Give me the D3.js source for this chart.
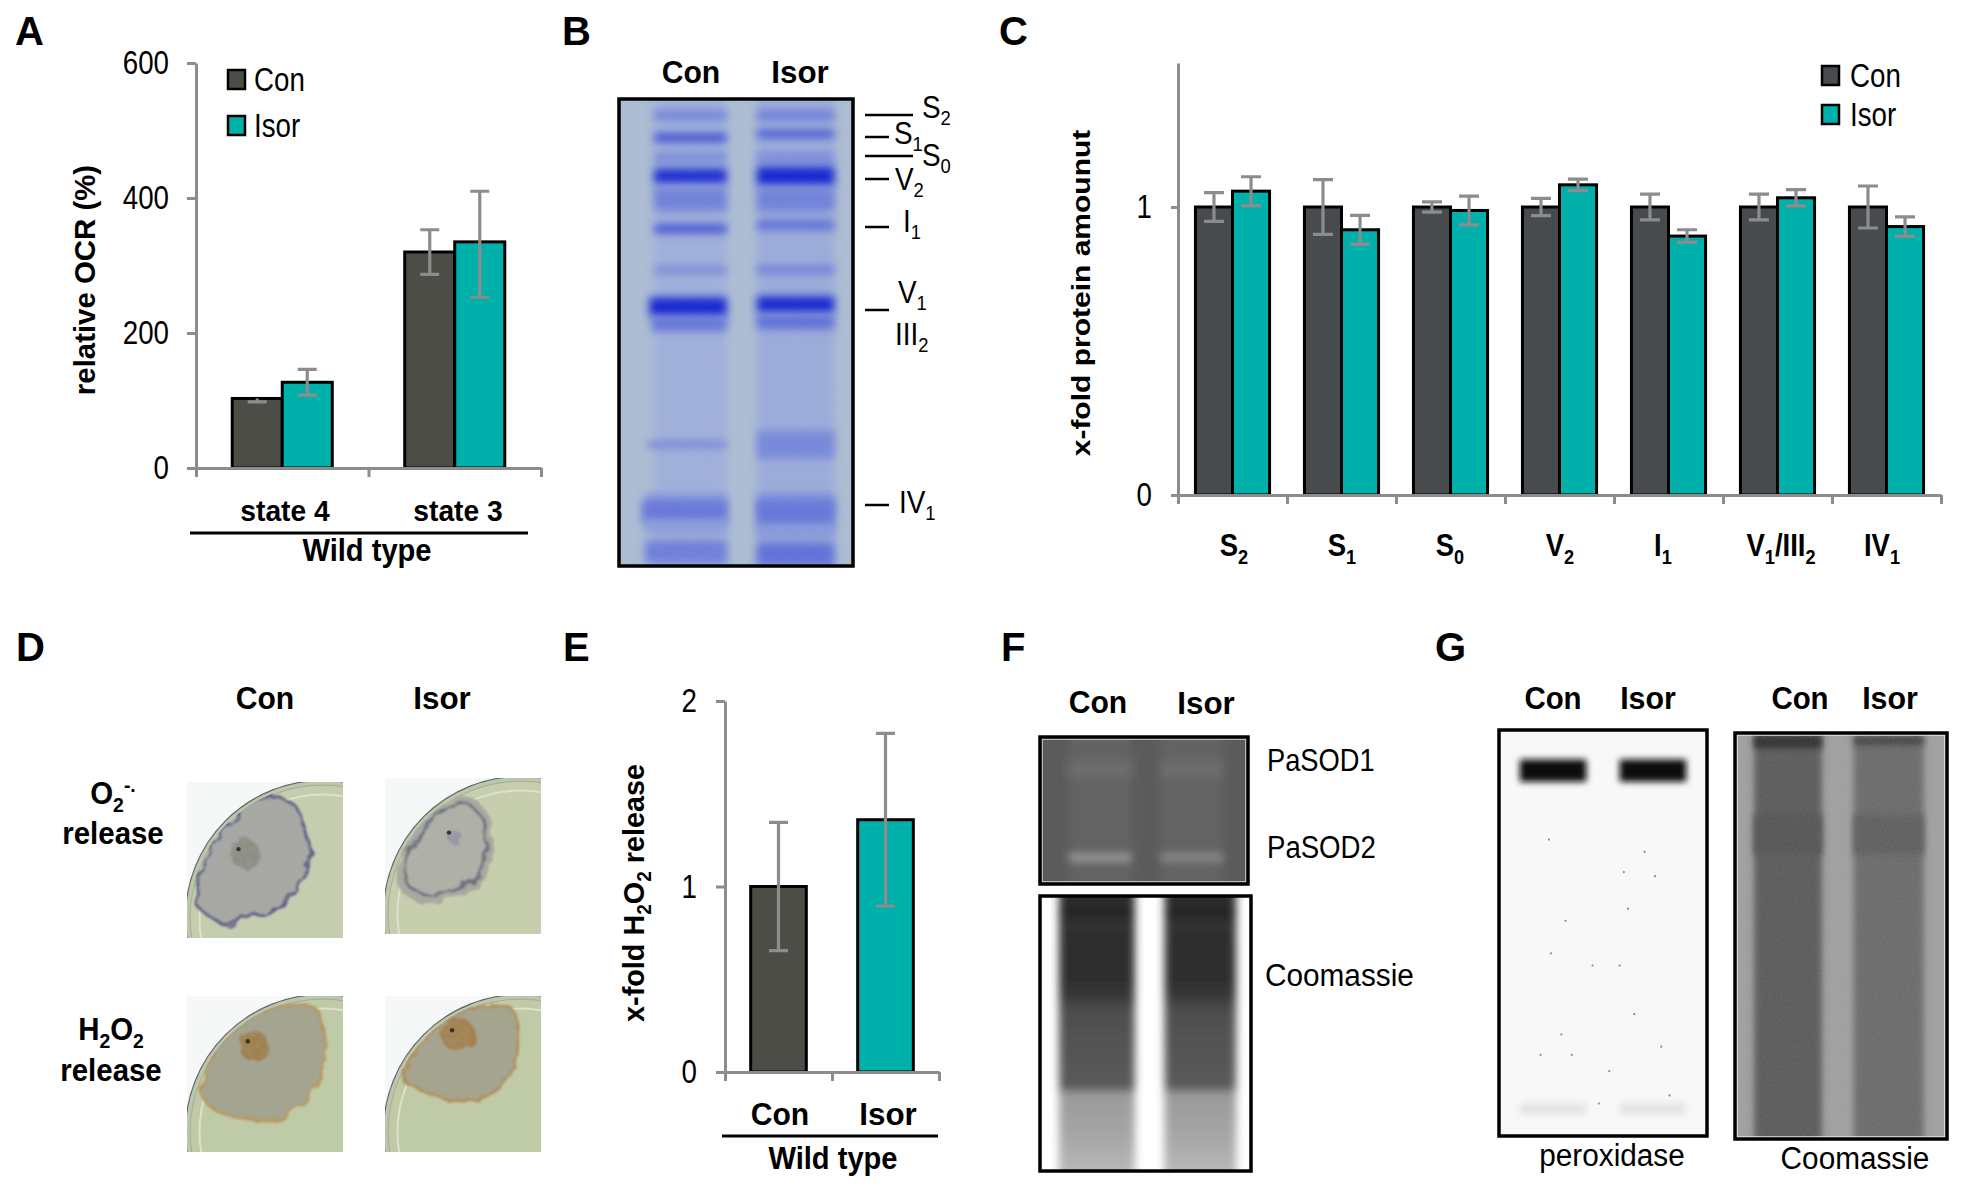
<!DOCTYPE html>
<html>
<head>
<meta charset="utf-8">
<script src="https://cdn.jsdelivr.net/npm/d3@7"></script>
<style>
  body { margin: 0; background: #fff; }
  text { font-family: "Liberation Sans", Arial, sans-serif; fill: #000; }
</style>
</head>
<body>
<svg id="fig" width="1962" height="1194"></svg>
<script>
// panel A
const ocrStates = ["state 4", "state 3"];
const ocrCon = [103, 320];
const ocrIsor = [127, 335];
const ocrConErrUp = [0, 33];
const ocrConErrDown = [5, 33];
const ocrIsorErrUp = [19, 75];
const ocrIsorErrDown = [19, 82];
const ocrTicks = [0, 200, 400, 600];

// panel C
const complexes = ["S_2", "S_1", "S_0", "V_2", "I_1", "V_1/III_2", "IV_1"];
const amountCon = [1, 1, 1, 1, 1, 1, 1];
const amountIsor = [1.055, 0.921, 0.988, 1.077, 0.899, 1.032, 0.932];
const amountConErr = [0.05, 0.095, 0.018, 0.03, 0.045, 0.045, 0.073];
const amountIsorErr = [0.05, 0.05, 0.05, 0.02, 0.022, 0.028, 0.034];
const amountTicks = [0, 1];

// panel E
const h2o2Groups = ["Con", "Isor"];
const h2o2Values = [1, 1.36];
const h2o2Err = [0.346, 0.465];
const h2o2Ticks = [0, 1, 2];

// gel bands: [migration 0-1, intensity 0-1, thickness 0-1, extra width to the left]
const bnConBands = [[.035,.35,.02],[.083,.8,.016],[.125,.3,.02],[.165,.95,.032],[.215,.35,.05],[.278,.7,.018],[.366,.38,.012],[.445,1,.04,.02],[.482,.45,.03,.01],[.74,.38,.012,.03],[.87,.2,.05,.04],[.885,.42,.05,.05],[.915,.16,.03,.04],[.97,.36,.05,.04]];
const bnIsorBands = [[.035,.4,.02],[.075,.85,.012],[.125,.3,.02],[.165,1,.04],[.215,.35,.05],[.27,.5,.02],[.366,.4,.016],[.44,1,.034],[.478,.5,.028],[.74,.3,.06],[.87,.26,.05],[.89,.42,.06],[.925,.18,.03],[.975,.46,.05]];
const bnLabels = ["S_2", "S_1", "S_0", "V_2", "I_1", "V_1", "III_2", "IV_1"];
const sodConBands = [[.22,.08,.12],[.82,.62,.055]];
const sodIsorBands = [[.22,.08,.12],[.82,.45,.055]];
const coomassieStops = [[0,"#2e2e2e"],[.07,"#2c2c2c"],[.09,"#222"],[.12,"#303030"],[.32,"#2e2e2e"],[.38,"#3a3a3a"],[.42,"#4e4e4e"],[.6,"#565656"],[.69,"#5c5c5c"],[.70,"#9a9a9a"],[.85,"#a6a6a6"],[1,"#bcbcbc"]];
const peroxBands = [[.10,1,.055],[.933,.08,.03]];
const peroxSpecks = [[.32,.47],[.62,.44],[.58,.58],[.45,.58],[.6,.35],[.75,.36],[.24,.27],[.65,.7],[.3,.75],[.35,.8],[.78,.78],[.2,.8],[.82,.9],[.48,.92],[.7,.3],[.25,.55],[.53,.84]];

const svg = d3.select("#fig");
const defs = svg.append("defs");
function newFilter(id) {
  return defs.append("filter").attr("id", id).attr("filterUnits", "userSpaceOnUse")
    .attr("x", 0).attr("y", 0).attr("width", 1962).attr("height", 1194);
}
[1, 2, 3, 4, 5].forEach(s => newFilter("blur" + s).append("feGaussianBlur").attr("stdDeviation", s));

const grain = newFilter("grain");
grain.append("feTurbulence").attr("type", "fractalNoise").attr("baseFrequency", 0.8).attr("numOctaves", 2).attr("seed", 4);
grain.append("feColorMatrix").attr("values", "0 0 0 0 0.5  0 0 0 0 0.5  0 0 0 0 0.5  0 0 0 0.9 -0.3");

// wobbly edge for the colonies
const rough = newFilter("rough");
rough.append("feTurbulence").attr("type", "fractalNoise").attr("baseFrequency", 0.07).attr("numOctaves", 2).attr("seed", 7).attr("result", "n");
rough.append("feDisplacementMap").attr("in", "SourceGraphic").attr("in2", "n").attr("scale", 9).attr("result", "d");
rough.append("feGaussianBlur").attr("in", "d").attr("stdDeviation", 1);

// light and dark blotches on top of a colony
const mottle = newFilter("mottle");
mottle.append("feTurbulence").attr("type", "fractalNoise").attr("baseFrequency", 0.13).attr("numOctaves", 3).attr("seed", 11);
mottle.append("feColorMatrix").attr("values", "0 0 0 0 0.4  0 0 0 0 0.4  0 0 0 0 0.38  1.6 0 0 0 -0.55").attr("result", "c");
mottle.append("feComposite").attr("in", "c").attr("in2", "SourceAlpha").attr("operator", "in");

// text helper: "_2" is a subscript char, "^-." a two char superscript
function label(x, y, str, o = {}) {
  const size = o.size || 31;
  let tf = `translate(${x},${y})`;
  if (o.rot) tf += ` rotate(${o.rot})`;
  tf += ` scale(${o.sx || 1},1)`;
  const t = svg.append("text").attr("transform", tf)
    .attr("font-size", size)
    .attr("font-weight", o.bold ? "bold" : "normal")
    .attr("text-anchor", o.anchor || "middle");
  let shift = 0;
  str.split(/(_.|\^..)/).filter(s => s).forEach(p => {
    let target = 0, fs = size, body = p;
    if (p[0] == "_") { target = size * 0.24; fs = size * 0.66; body = p.slice(1); }
    if (p[0] == "^") { target = -size * 0.36; fs = size * 0.66; body = p.slice(1); }
    t.append("tspan").attr("dy", target - shift).attr("font-size", fs).text(body);
    shift = target;
  });
  return t;
}

function errorBars(data, y, cap) {
  const g = svg.append("g").attr("stroke", "#8c8c8c").attr("stroke-width", 3.2).attr("fill", "none");
  g.selectAll("path").data(data).join("path")
    .attr("d", d => {
      const hi = y(d.v + d.up), lo = y(d.v - d.down);
      const top = d.up > 0 ? `M${d.x - cap / 2},${hi}H${d.x + cap / 2}` : "";
      return `M${d.x},${hi}V${lo}M${d.x - cap / 2},${lo}H${d.x + cap / 2}` + top;
    });
}

// axes and bars; series is a list of {values, up, down, colors}
function barChart(o) {
  const y = d3.scaleLinear().domain([0, o.yMax]).range([o.y0, o.y1]);
  const x = d3.scaleBand().domain(o.cats).range([o.x0, o.x1]).paddingInner(o.pad).paddingOuter(o.pad / 2);
  const x1 = d3.scaleBand().domain(d3.range(o.series.length)).range([0, x.bandwidth()]);
  const edges = d3.scaleLinear().domain([0, o.cats.length]).range([o.x0, o.x1]);

  o.series.forEach((s, si) => {
    svg.append("g").selectAll("rect").data(o.cats).join("rect")
      .attr("x", c => x(c) + x1(si))
      .attr("y", (c, i) => y(s.values[i]))
      .attr("width", x1.bandwidth())
      .attr("height", (c, i) => o.y0 - y(s.values[i]))
      .attr("fill", (c, i) => s.colors[i])
      .attr("stroke", "#000").attr("stroke-width", 3);
  });

  const axisY = svg.append("g").attr("transform", `translate(${o.x0},0)`)
    .call(d3.axisLeft(y).tickValues(o.ticks).tickSize(o.tickLen).tickSizeOuter(0).tickFormat(""));
  const axisX = svg.append("g").attr("transform", `translate(0,${o.y0})`)
    .call(d3.axisBottom(edges).tickValues(d3.range(o.cats.length + 1)).tickSize(9).tickSizeOuter(0).tickFormat(""));
  [axisY, axisX].forEach(a => a.selectAll("path,line").attr("stroke", "#8c8c8c").attr("stroke-width", 3));

  o.series.forEach((s, si) => {
    errorBars(o.cats.map((c, i) => ({
      x: x(c) + x1(si) + x1.bandwidth() / 2, v: s.values[i], up: s.up[i], down: s.down[i]
    })), y, o.cap);
  });

  o.ticks.forEach(t => label(o.x0 - o.labelGap, y(t) + 11, String(t), { size: 33, sx: 0.84, anchor: "end" }));
  return x;
}

function legend(x, yCon, yIsor, textX, conColor, w, h) {
  [["Con", yCon, conColor], ["Isor", yIsor, "#00b0aa"]].forEach(d => {
    svg.append("rect").attr("x", x).attr("y", d[1]).attr("width", w).attr("height", h)
      .attr("fill", d[2]).attr("stroke", "#000").attr("stroke-width", 2.5);
    label(textX, d[1] + h / 2 + 11, d[0], { size: 33, sx: 0.84, anchor: "start" });
  });
}

// gel picture, everything inside is placed in fractions of the box
let gelCount = 0;
function gel(o) {
  const id = "gel" + (gelCount++);
  defs.append("clipPath").attr("id", id).append("rect")
    .attr("x", o.x).attr("y", o.y).attr("width", o.w).attr("height", o.h);
  const fx = d3.scaleLinear().range([o.x, o.x + o.w]);
  const fy = d3.scaleLinear().range([o.y, o.y + o.h]);
  const g = svg.append("g").attr("clip-path", `url(#${id})`);
  g.append("rect").attr("x", o.x).attr("y", o.y).attr("width", o.w).attr("height", o.h).attr("fill", o.bg);
  const tone = d3.interpolateRgb(o.low, o.high);
  o.lanes.forEach(l => {
    g.append("rect").attr("x", fx(l.x0)).attr("width", fx(l.x1) - fx(l.x0))
      .attr("y", o.y - 10).attr("height", o.h + 20)
      .attr("fill", l.fill).attr("filter", `url(#blur${o.laneBlur || 2})`);
    g.append("g").selectAll("rect").data(l.bands || []).join("rect")
      .attr("x", d => fx(l.x0 - (d[3] || 0))).attr("width", d => fx(l.x1) - fx(l.x0 - (d[3] || 0)))
      .attr("y", d => fy(d[0] - d[2] / 2)).attr("height", d => fy(d[2]) - fy(0))
      .attr("fill", d => tone(d[1]))
      .attr("filter", `url(#blur${o.bandBlur || 2})`);
  });
  if (o.grain) {
    g.append("rect").attr("x", o.x).attr("y", o.y).attr("width", o.w).attr("height", o.h)
      .attr("filter", "url(#grain)").attr("opacity", o.grain);
  }
  if (o.inner) {
    g.append("rect").attr("x", o.x + 2).attr("y", o.y + 2).attr("width", o.w - 4).attr("height", o.h - 4)
      .attr("fill", "none").attr("stroke", o.inner).attr("stroke-width", 1.5);
  }
  svg.append("rect").attr("x", o.x).attr("y", o.y).attr("width", o.w).attr("height", o.h)
    .attr("fill", "none").attr("stroke", "#000").attr("stroke-width", 3.5);
  return { g, fx, fy };
}

function laneGradient(name) {
  const lg = defs.append("linearGradient").attr("id", name).attr("x1", 0).attr("x2", 0).attr("y1", 0).attr("y2", 1);
  coomassieStops.forEach(s => lg.append("stop").attr("offset", s[0]).attr("stop-color", s[1]));
  return `url(#${name})`;
}

// panel letters
[["A", 15, 45], ["B", 562, 45], ["C", 999, 45], ["D", 16, 661], ["E", 563, 661], ["F", 1001, 661], ["G", 1435, 661]]
  .forEach(d => label(d[1], d[2], d[0], { size: 40, bold: true, anchor: "start" }));

// ---- A
barChart({
  cats: ocrStates, yMax: 600, ticks: ocrTicks, x0: 196, x1: 541, y0: 468, y1: 63,
  pad: 0.42, tickLen: 9, cap: 19, labelGap: 27,
  series: [
    { values: ocrCon, up: ocrConErrUp, down: ocrConErrDown, colors: ocrStates.map(() => "#4d4d47") },
    { values: ocrIsor, up: ocrIsorErrUp, down: ocrIsorErrDown, colors: ocrStates.map(() => "#00b0aa") }
  ]
});
legend(228, 70, 116, 254, "#4d4d47", 17, 19);
label(95, 280, "relative OCR (%)", { size: 30, bold: true, rot: -90, sx: 0.98 });
label(285, 521, ocrStates[0], { size: 30, bold: true, sx: 0.94 });
label(458, 521, ocrStates[1], { size: 30, bold: true, sx: 0.94 });
svg.append("line").attr("x1", 190).attr("x2", 528).attr("y1", 533).attr("y2", 533).attr("stroke", "#000").attr("stroke-width", 3);
label(367, 561, "Wild type", { size: 32, bold: true, sx: 0.91 });

// ---- B
gel({
  x: 619, y: 99, w: 234, h: 467, bg: "#adbdd3", low: "#a3b3de", high: "#1426d2", bandBlur: 4, laneBlur: 4, grain: 0.12,
  lanes: [
    { x0: 0.15, x1: 0.46, fill: "#a0b0da", bands: bnConBands },
    { x0: 0.59, x1: 0.92, fill: "#9cacda", bands: bnIsorBands }
  ]
});
label(691, 83, "Con", { size: 32, bold: true, sx: 0.94 });
label(800, 83, "Isor", { size: 32, bold: true, sx: 0.98 });
const bnTicks = [[115, 913], [137, 889], [156, 913], [179, 889], [227, 889], [310, 889], [505, 889]];
svg.append("g").selectAll("line").data(bnTicks).join("line")
  .attr("x1", 865).attr("x2", d => d[1]).attr("y1", d => d[0]).attr("y2", d => d[0])
  .attr("stroke", "#000").attr("stroke-width", 2.5);
[[922, 118], [894, 144], [922, 166], [895, 190], [903, 232], [898, 303], [895, 345], [899, 513]]
  .forEach((p, i) => label(p[0], p[1], bnLabels[i], { size: 31, anchor: "start", sx: 0.9 }));

// ---- C
barChart({
  cats: complexes, yMax: 1.5, ticks: amountTicks, x0: 1178, x1: 1941, y0: 495, y1: 63,
  pad: 0.32, tickLen: 7, cap: 20, labelGap: 26,
  series: [
    { values: amountCon, up: amountConErr, down: amountConErr, colors: complexes.map(() => "#474b4d") },
    { values: amountIsor, up: amountIsorErr, down: amountIsorErr, colors: complexes.map(() => "#00b0aa") }
  ]
});
legend(1822, 66, 105, 1850, "#474b4d", 17, 19);
label(1090, 293, "x-fold protein amounut", { size: 25, bold: true, rot: -90, sx: 1.2 });
[1234, 1342, 1450, 1560, 1663, 1781, 1882].forEach((cx, i) => label(cx, 556, complexes[i], { size: 32, bold: true, sx: 0.86 }));

// ---- D
const dishes = [
  { x: 187, y: 782, agar: "#c4cdae", colony: "#a8a8a4", edge: "#64608a", spot: [.37, .46, "#8d8f84", 15],
    outline: [[.55,.10],[.70,.16],[.75,.30],[.80,.46],[.75,.58],[.64,.75],[.50,.855],[.39,.84],[.27,.925],[.16,.87],[.06,.78],[.08,.62],[.15,.42],[.27,.26],[.41,.13]] },
  { x: 385, y: 778, agar: "#c6ceae", colony: "#a7aa9e", edge: "#6f6f80", spot: [.45, .38, "#9a98a8", 7], inner: 0.88,
    outline: [[.54,.13],[.65,.23],[.68,.37],[.66,.54],[.60,.68],[.47,.74],[.31,.79],[.2,.78],[.09,.68],[.14,.45],[.28,.26],[.43,.14]] },
  { x: 187, y: 996, agar: "#bfcaa6", colony: "#a4a48f", edge: "#b8995f", spot: [.43, .32, "#a0814f", 15],
    outline: [[.82,.08],[.88,.225],[.88,.39],[.83,.555],[.71,.72],[.57,.79],[.41,.79],[.27,.765],[.13,.69],[.09,.6],[.16,.4],[.3,.22],[.5,.09]] },
  { x: 385, y: 996, agar: "#bfcaa6", colony: "#a5a48e", edge: "#b38f58", spot: [.47, .25, "#a3834f", 17],
    outline: [[.81,.08],[.85,.27],[.83,.44],[.72,.60],[.54,.67],[.35,.65],[.19,.58],[.11,.53],[.2,.35],[.38,.16],[.6,.07]] }
];
dishes.forEach((d, i) => {
  const size = 156;
  const px = d3.scaleLinear().range([d.x, d.x + size]);
  const py = d3.scaleLinear().range([d.y, d.y + size]);
  const rimR = 0.86 * size;
  defs.append("clipPath").attr("id", "dish" + i).append("rect").attr("x", d.x).attr("y", d.y).attr("width", size).attr("height", size);
  defs.append("clipPath").attr("id", "agar" + i).append("circle").attr("cx", px(.87)).attr("cy", py(.87)).attr("r", rimR);
  const g = svg.append("g").attr("clip-path", `url(#dish${i})`);
  g.append("rect").attr("x", d.x).attr("y", d.y).attr("width", size).attr("height", size).attr("fill", "#f6f7f7");
  const ring = (r, fill, stroke, w) => g.append("circle").attr("cx", px(.87)).attr("cy", py(.87)).attr("r", r * size)
    .attr("fill", fill).attr("stroke", stroke).attr("stroke-width", w);
  ring(.88, "#bcc6ae", "#5e6a60", 1.2);
  ring(.85, d.agar, "#a3ae98", 1);
  ring(.79, "none", "#dde2c8", 2);
  const blob = d3.line().x(p => px(p[0])).y(p => py(p[1])).curve(d3.curveCatmullRomClosed);
  const inside = g.append("g").attr("clip-path", `url(#agar${i})`);
  const piece = inside.append("g").attr("filter", "url(#rough)");
  piece.append("path").attr("d", blob(d.outline)).attr("fill", d.colony)
    .attr("stroke", d.inner ? d.colony : d.edge).attr("stroke-width", 3);
  if (d.inner) {
    const scaled = d.outline.map(p => [.4 + (p[0] - .4) * d.inner, .45 + (p[1] - .45) * d.inner]);
    piece.append("path").attr("d", blob(scaled)).attr("fill", "#b0b2a8").attr("stroke", d.edge).attr("stroke-width", 3);
  }
  piece.append("circle").attr("cx", px(d.spot[0])).attr("cy", py(d.spot[1])).attr("r", d.spot[3]).attr("fill", d.spot[2]);
  inside.append("path").attr("d", blob(d.outline)).attr("fill", "#000").attr("filter", "url(#mottle)").attr("opacity", 0.3);
  inside.append("circle").attr("cx", px(d.spot[0] - .04)).attr("cy", py(d.spot[1] - .03)).attr("r", 2.2).attr("fill", "#333");
});
label(265, 709, "Con", { size: 32, bold: true, sx: 0.94 });
label(442, 709, "Isor", { size: 32, bold: true, sx: 0.98 });
label(113, 804, "O_2^-.", { size: 32, bold: true, sx: 0.92 });
label(113, 844, "release", { size: 32, bold: true, sx: 0.92 });
label(111, 1040, "H_2O_2", { size: 32, bold: true, sx: 0.92 });
label(111, 1081, "release", { size: 32, bold: true, sx: 0.92 });

// ---- E
barChart({
  cats: h2o2Groups, yMax: 2, ticks: h2o2Ticks, x0: 725, x1: 939, y0: 1072, y1: 701,
  pad: 0.48, tickLen: 9, cap: 19, labelGap: 28,
  series: [{ values: h2o2Values, up: h2o2Err, down: h2o2Err, colors: ["#4d4d47", "#00b0aa"] }]
});
label(644, 893, "x-fold H_2O_2 release", { size: 30, bold: true, rot: -90, sx: 0.96 });
label(780, 1125, h2o2Groups[0], { size: 32, bold: true, sx: 0.94 });
label(888, 1125, h2o2Groups[1], { size: 32, bold: true, sx: 0.98 });
svg.append("line").attr("x1", 722).attr("x2", 938).attr("y1", 1136).attr("y2", 1136).attr("stroke", "#000").attr("stroke-width", 3);
label(833, 1169, "Wild type", { size: 32, bold: true, sx: 0.91 });

// ---- F
gel({
  x: 1040, y: 737, w: 208, h: 147, bg: "#5b5b5b", low: "#666", high: "#bdbdbd", bandBlur: 4, laneBlur: 5, inner: "#d8d8d8",
  lanes: [
    { x0: 0.14, x1: 0.44, fill: "#646464", bands: sodConBands },
    { x0: 0.58, x1: 0.88, fill: "#646464", bands: sodIsorBands }
  ]
});
const coomassieF = laneGradient("coomF");
gel({
  x: 1040, y: 896, w: 211, h: 275, bg: "#fff", low: "#fff", high: "#000", laneBlur: 4,
  lanes: [{ x0: 0.09, x1: 0.45, fill: coomassieF }, { x0: 0.59, x1: 0.93, fill: coomassieF }]
});
label(1098, 713, "Con", { size: 32, bold: true, sx: 0.94 });
label(1206, 714, "Isor", { size: 32, bold: true, sx: 0.98 });
label(1267, 771, "PaSOD1", { size: 31, anchor: "start", sx: 0.88 });
label(1267, 858, "PaSOD2", { size: 31, anchor: "start", sx: 0.89 });
label(1265, 986, "Coomassie", { size: 31, anchor: "start", sx: 0.96 });

// ---- G
const perox = gel({
  x: 1499, y: 730, w: 208, h: 406, bg: "#f8f8f8", low: "#f8f8f8", high: "#0d0d0d", bandBlur: 3,
  lanes: [
    { x0: 0.10, x1: 0.42, fill: "#f8f8f8", bands: peroxBands },
    { x0: 0.58, x1: 0.90, fill: "#f8f8f8", bands: peroxBands }
  ]
});
perox.g.append("g").selectAll("circle").data(peroxSpecks).join("circle")
  .attr("cx", d => perox.fx(d[0])).attr("cy", d => perox.fy(d[1])).attr("r", 1.1).attr("fill", "#888");
gel({
  x: 1735, y: 733, w: 212, h: 406, bg: "#a0a0a0", low: "#666", high: "#2e2e2e", bandBlur: 3, laneBlur: 3, grain: 0.3, inner: "#e8e8e8",
  lanes: [
    { x0: 0.09, x1: 0.41, fill: "#5c5c5c", bands: [[.022,.95,.03],[.25,.28,.1]] },
    { x0: 0.56, x1: 0.89, fill: "#6c6c6c", bands: [[.02,1,.012],[.25,.1,.1]] }
  ]
});
label(1553, 709, "Con", { size: 32, bold: true, sx: 0.92 });
label(1648, 709, "Isor", { size: 32, bold: true, sx: 0.95 });
label(1800, 709, "Con", { size: 32, bold: true, sx: 0.92 });
label(1890, 709, "Isor", { size: 32, bold: true, sx: 0.95 });
label(1612, 1166, "peroxidase", { size: 31, sx: 0.96 });
label(1855, 1169, "Coomassie", { size: 31, sx: 0.96 });
</script>
</body>
</html>
